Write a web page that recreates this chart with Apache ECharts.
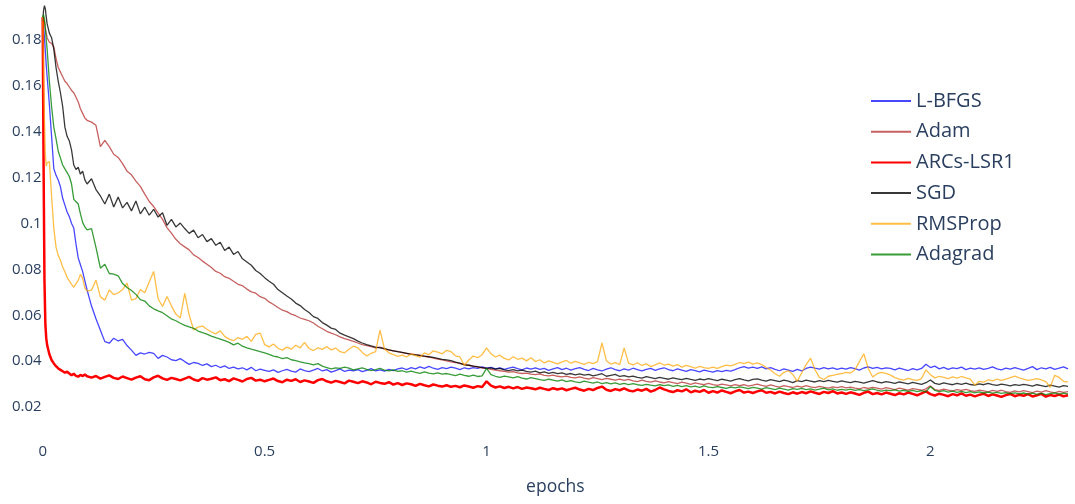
<!DOCTYPE html>
<html>
<head>
<meta charset="utf-8">
<script src="https://cdn.jsdelivr.net/npm/echarts@6/dist/echarts.min.js"></script>
<style>
  html, body { margin: 0; padding: 0; background: #ffffff; }
  #chart { width: 1075px; height: 504px; }
</style>
</head>
<body>
<div id="chart"></div>
<script>
// Training loss per optimizer, logged against epochs.
// Fine logging for the first 0.1 epoch, then every 0.01 epoch.
const headEpochs = [0, 0.002, 0.004, 0.006, 0.008, 0.01, 0.015, 0.02, 0.025, 0.03, 0.035, 0.04,
  0.045, 0.05, 0.055, 0.06, 0.065, 0.07, 0.075, 0.08, 0.085, 0.09, 0.095, 0.1];
const tailStart = 0.11, tailStep = 0.01, tailCount = 221;
const epochs = headEpochs.concat(
  Array.from({ length: tailCount }, (_, i) => +(tailStart + i * tailStep).toFixed(2))
);

const seriesNames = ['L-BFGS', 'Adam', 'ARCs-LSR1', 'SGD', 'RMSProp', 'Adagrad'];

const lbfgs = [
  0.19, 0.186, 0.181, 0.175, 0.169, 0.164, 0.152, 0.138, 0.124, 0.121, 0.119, 0.116, 0.111, 0.108, 0.105, 0.103, 0.1, 0.098, 0.091, 0.085, 0.082, 0.079, 0.075, 0.071,
  0.064, 0.0585, 0.0535, 0.0485, 0.0478, 0.05, 0.0488, 0.0495, 0.0468, 0.0448,
  0.0425, 0.0436, 0.0431, 0.0438, 0.0434, 0.0412, 0.0425, 0.0418, 0.0406, 0.0402,
  0.0411, 0.0398, 0.0386, 0.0394, 0.039, 0.0381, 0.0388, 0.0376, 0.0382, 0.0372,
  0.0379, 0.0368, 0.0374, 0.0366, 0.0371, 0.0362, 0.0373, 0.0358, 0.0365, 0.036,
  0.0355, 0.0362, 0.0351, 0.0358, 0.0364, 0.0356, 0.0352, 0.0366, 0.0359, 0.0354,
  0.0361, 0.0368, 0.0357, 0.0363, 0.0352, 0.0359, 0.0366, 0.0355, 0.0361, 0.0358,
  0.0363, 0.0354, 0.036, 0.0367, 0.0357, 0.0362, 0.0356, 0.0364, 0.0359, 0.0366,
  0.037, 0.0363, 0.0372, 0.0366, 0.0375, 0.0368, 0.0377, 0.0369, 0.0364, 0.0372,
  0.0367, 0.0374, 0.0369, 0.0363, 0.0371, 0.0366, 0.0372, 0.0368, 0.0375, 0.0369,
  0.0373, 0.0366, 0.0371, 0.0364, 0.0369, 0.0374, 0.0367, 0.0362, 0.037, 0.0365,
  0.0371, 0.0364, 0.0368, 0.036, 0.0366, 0.0372, 0.0363, 0.0369, 0.0361, 0.0367,
  0.0372, 0.0364, 0.0359, 0.0368, 0.0362, 0.0357, 0.0365, 0.0371, 0.0363, 0.0358,
  0.0366, 0.0361, 0.0369, 0.0363, 0.0357, 0.0364, 0.0368, 0.036, 0.0366, 0.0371,
  0.0363, 0.0358, 0.0366, 0.0361, 0.0355, 0.0363, 0.0359, 0.0353, 0.0361, 0.0356,
  0.0352, 0.0359, 0.0354, 0.036, 0.0356, 0.0363, 0.0371, 0.0376, 0.0369, 0.0374,
  0.0368, 0.0375, 0.0366, 0.0372, 0.0364, 0.0358, 0.0366, 0.0361, 0.0355, 0.0364,
  0.0357, 0.0368, 0.0374, 0.0369, 0.0365, 0.0372, 0.0366, 0.0371, 0.0364, 0.0369,
  0.0365, 0.0372, 0.0367, 0.0361, 0.037, 0.0375, 0.0368, 0.0373, 0.0366, 0.0371,
  0.0368, 0.0362, 0.0369, 0.0364, 0.0359, 0.0367, 0.0362, 0.0368, 0.0386, 0.0372,
  0.0378, 0.0366, 0.0373, 0.0364, 0.0371, 0.0367, 0.0374, 0.0363, 0.0369, 0.0365,
  0.0371, 0.0364, 0.0368, 0.0375, 0.0366, 0.0362, 0.0369, 0.0365, 0.0372, 0.0366,
  0.0361, 0.0368, 0.0376, 0.0363, 0.0371, 0.0366, 0.0373, 0.0364, 0.0369, 0.0375, 0.0366
];

const adam = [
  0.19, 0.19, 0.188, 0.185, 0.183, 0.181, 0.179, 0.1785, 0.177, 0.172, 0.168, 0.166, 0.164, 0.162, 0.161, 0.1595, 0.158, 0.157, 0.155, 0.153, 0.15, 0.148, 0.146, 0.145,
  0.1442, 0.1428, 0.1335, 0.1362, 0.1335, 0.1302, 0.1288, 0.1261, 0.1228, 0.1212,
  0.1185, 0.1162, 0.1128, 0.1096, 0.1074, 0.1045, 0.1018, 0.0982, 0.0958, 0.0931,
  0.0912, 0.0898, 0.0885, 0.0863, 0.0852, 0.0836, 0.0822, 0.0808, 0.0791, 0.0783,
  0.0768, 0.0761, 0.0748, 0.0735, 0.0729, 0.0714, 0.0702, 0.0696, 0.0681, 0.0674,
  0.0658, 0.0647, 0.0634, 0.0622, 0.0616, 0.0605, 0.0598, 0.0588, 0.0582, 0.0576,
  0.0566, 0.0552, 0.0541, 0.053, 0.0522, 0.0515, 0.0506, 0.0498, 0.0493, 0.0486,
  0.0479, 0.0472, 0.0468, 0.0463, 0.0458, 0.0461, 0.0452, 0.0449, 0.0445, 0.0441,
  0.0437, 0.0434, 0.0431, 0.0428, 0.0426, 0.0421, 0.0418, 0.0413, 0.0409, 0.0405,
  0.0401, 0.0397, 0.0394, 0.0389, 0.0386, 0.0382, 0.0378, 0.0374, 0.0371, 0.0368,
  0.0364, 0.0361, 0.0358, 0.0355, 0.0352, 0.0354, 0.0349, 0.0346, 0.0348, 0.0343,
  0.0341, 0.0344, 0.0338, 0.0336, 0.0339, 0.0334, 0.0331, 0.0335, 0.0329, 0.0327,
  0.0331, 0.0326, 0.0322, 0.0328, 0.0324, 0.0319, 0.0325, 0.0321, 0.0317, 0.0322,
  0.0316, 0.032, 0.0314, 0.0311, 0.0317, 0.0312, 0.0308, 0.0314, 0.0309, 0.0305,
  0.0311, 0.0306, 0.0302, 0.0308, 0.0304, 0.0299, 0.0305, 0.0301, 0.0297, 0.0303,
  0.0298, 0.0294, 0.03, 0.0296, 0.0292, 0.0298, 0.0293, 0.0297, 0.0291, 0.0295,
  0.03, 0.0294, 0.029, 0.0296, 0.0291, 0.0287, 0.0293, 0.0289, 0.0285, 0.0291,
  0.0287, 0.0293, 0.0288, 0.0284, 0.029, 0.0286, 0.0282, 0.0288, 0.0284, 0.0289,
  0.0283, 0.0287, 0.0282, 0.0279, 0.0285, 0.0281, 0.0286, 0.0282, 0.0278, 0.0284,
  0.028, 0.0276, 0.0282, 0.0278, 0.0274, 0.028, 0.0277, 0.0273, 0.0279, 0.0292,
  0.0276, 0.0272, 0.0278, 0.0274, 0.027, 0.0276, 0.0272, 0.0277, 0.0271, 0.0268,
  0.0274, 0.027, 0.0266, 0.0272, 0.0268, 0.0273, 0.0267, 0.0264, 0.027, 0.0266,
  0.0271, 0.0267, 0.0263, 0.0269, 0.0265, 0.0271, 0.0266, 0.0262, 0.0268, 0.0264, 0.0267
];

const arcsLsr1 = [
  0.19, 0.125, 0.075, 0.056, 0.05, 0.047, 0.043, 0.0405, 0.039, 0.0378, 0.0368, 0.0362, 0.0356, 0.035, 0.0354, 0.0346, 0.0338, 0.0345, 0.0336, 0.0332, 0.034, 0.0335, 0.0342, 0.0334,
  0.0328, 0.0335, 0.0324, 0.0331, 0.0338, 0.0327, 0.0322, 0.0333, 0.0326, 0.0319,
  0.0328, 0.0334, 0.0321, 0.0317, 0.0329, 0.0336, 0.0325, 0.0318, 0.0327, 0.0322,
  0.0316, 0.0324, 0.0331, 0.032, 0.0314, 0.0326, 0.0319, 0.0323, 0.0329, 0.0317,
  0.0321, 0.0313, 0.0325, 0.0318, 0.0311, 0.0322, 0.0327, 0.0315, 0.0319, 0.0312,
  0.0318, 0.0324, 0.0313, 0.0308, 0.0319, 0.0314, 0.0321, 0.0309, 0.0316, 0.0311,
  0.0305, 0.0317, 0.0322, 0.0312, 0.0306, 0.0314, 0.0309, 0.0303, 0.0315, 0.031,
  0.0304, 0.0312, 0.0307, 0.0299, 0.031, 0.0305, 0.0301, 0.0308, 0.0298, 0.0304,
  0.0296, 0.0303, 0.0299, 0.0292, 0.0301, 0.0295, 0.029, 0.0298, 0.0293, 0.0289,
  0.0295, 0.0288, 0.0292, 0.0286, 0.0294, 0.0289, 0.0284, 0.0291, 0.0287, 0.0312,
  0.0293, 0.0285, 0.029, 0.0283, 0.0288, 0.0281, 0.0287, 0.0279, 0.0285, 0.0282,
  0.0277, 0.0284, 0.0279, 0.0274, 0.0282, 0.0276, 0.0281, 0.0273, 0.0279, 0.0284,
  0.0276, 0.0271, 0.0279, 0.0274, 0.0283, 0.0289, 0.0275, 0.027, 0.0278, 0.0273,
  0.0281, 0.0272, 0.0268, 0.0276, 0.0271, 0.0279, 0.0267, 0.0274, 0.0285, 0.0277,
  0.027, 0.0265, 0.0273, 0.0268, 0.0277, 0.0264, 0.0271, 0.0266, 0.0274, 0.0262,
  0.0269, 0.0263, 0.0272, 0.0266, 0.026, 0.0268, 0.0274, 0.0263, 0.0267, 0.0261,
  0.0268, 0.0273, 0.0262, 0.0266, 0.0259, 0.0267, 0.0261, 0.0256, 0.0264, 0.0258,
  0.0265, 0.026, 0.0268, 0.0262, 0.0257, 0.0266, 0.0261, 0.0269, 0.0259, 0.0263,
  0.0257, 0.0264, 0.0259, 0.0253, 0.0262, 0.0267, 0.0256, 0.0261, 0.0255, 0.0263,
  0.0258, 0.0252, 0.026, 0.0255, 0.0263, 0.0257, 0.0251, 0.0259, 0.0268, 0.0256,
  0.025, 0.0258, 0.0253, 0.0247, 0.0256, 0.0251, 0.0259, 0.0249, 0.0254, 0.0246,
  0.0253, 0.0258, 0.0248, 0.0255, 0.025, 0.0244, 0.0252, 0.0257, 0.0247, 0.0253,
  0.0249, 0.0256, 0.0246, 0.0251, 0.0257, 0.0245, 0.0252, 0.0248, 0.0254, 0.0247, 0.0251
];

const sgd = [
  0.188, 0.193, 0.195, 0.1935, 0.19, 0.187, 0.183, 0.181, 0.176, 0.168, 0.162, 0.157, 0.151, 0.142, 0.138, 0.136, 0.132, 0.1255, 0.1235, 0.1245, 0.1215, 0.1228, 0.119, 0.1172,
  0.1195, 0.1148, 0.112, 0.1085, 0.1128, 0.1072, 0.1115, 0.1068, 0.1092, 0.1055,
  0.1098, 0.1042, 0.1071, 0.1036, 0.1062, 0.1028, 0.1047, 0.0992, 0.1018, 0.0985,
  0.1002, 0.0978, 0.0957, 0.0971, 0.0938, 0.0952, 0.0921, 0.0934, 0.0905, 0.0918,
  0.0882, 0.0897, 0.0865, 0.0878, 0.0846, 0.0832, 0.0818, 0.0795, 0.0782, 0.0764,
  0.0748, 0.0735, 0.0712, 0.0698, 0.0684, 0.0671, 0.0653, 0.0642, 0.0625, 0.0612,
  0.0594, 0.0586, 0.0568, 0.0557, 0.0544, 0.0538, 0.0522, 0.0513, 0.0506, 0.0498,
  0.0487, 0.0479, 0.0472, 0.0466, 0.0461, 0.0458, 0.0455, 0.0449, 0.0445, 0.0441,
  0.0438, 0.0434, 0.0429, 0.0427, 0.0424, 0.0422, 0.0419, 0.0416, 0.0412, 0.0408,
  0.0405, 0.0402, 0.0396, 0.0391, 0.0384, 0.0382, 0.0378, 0.0376, 0.0372, 0.0368,
  0.0371, 0.0365, 0.0368, 0.0362, 0.0359, 0.0363, 0.0357, 0.0361, 0.0355, 0.0352,
  0.0356, 0.0349, 0.0353, 0.0347, 0.0351, 0.0345, 0.0349, 0.0342, 0.0346, 0.034,
  0.0344, 0.0339, 0.0342, 0.0336, 0.034, 0.0345, 0.0334, 0.0338, 0.0342, 0.0333,
  0.0337, 0.0331, 0.0335, 0.0329, 0.0326, 0.0332, 0.0328, 0.0324, 0.0329, 0.0325,
  0.0321, 0.0327, 0.0323, 0.0319, 0.0325, 0.032, 0.0316, 0.0322, 0.0318, 0.0324,
  0.0319, 0.0315, 0.0321, 0.0317, 0.0313, 0.0319, 0.0324, 0.0318, 0.0314, 0.032,
  0.0323, 0.0317, 0.0313, 0.0319, 0.0315, 0.0311, 0.0317, 0.0313, 0.0306, 0.0315,
  0.0311, 0.0317, 0.0313, 0.0309, 0.0315, 0.0311, 0.0316, 0.0312, 0.0308, 0.0314,
  0.031, 0.0306, 0.0312, 0.0308, 0.0304, 0.031, 0.0315, 0.0309, 0.0305, 0.0311,
  0.0307, 0.0303, 0.0309, 0.0305, 0.0301, 0.0307, 0.0303, 0.0299, 0.0306, 0.0318,
  0.0303, 0.0299, 0.0305, 0.0301, 0.0297, 0.0303, 0.0299, 0.0304, 0.0298, 0.0295,
  0.0301, 0.0297, 0.0303, 0.0298, 0.0294, 0.03, 0.0296, 0.0292, 0.0298, 0.0294,
  0.0299, 0.0295, 0.0291, 0.0297, 0.0293, 0.0289, 0.0295, 0.0291, 0.0287, 0.0293, 0.029
];

const rmsprop = [
  0.19, 0.165, 0.145, 0.13, 0.125, 0.1265, 0.127, 0.112, 0.098, 0.0897, 0.086, 0.084, 0.081, 0.079, 0.0765, 0.075, 0.0735, 0.0722, 0.0738, 0.0752, 0.0778, 0.0762, 0.0718, 0.0705,
  0.071, 0.0753, 0.068, 0.0666, 0.071, 0.069, 0.0697, 0.0712, 0.074, 0.0666,
  0.0672, 0.0712, 0.0698, 0.0745, 0.0791, 0.0672, 0.0638, 0.0682, 0.0641, 0.0605,
  0.0588, 0.0695, 0.0601, 0.0536, 0.0548, 0.0553, 0.0539, 0.0527, 0.0519, 0.0532,
  0.0508, 0.0496, 0.0489, 0.0502, 0.0495, 0.0508, 0.0486, 0.0517, 0.0522, 0.0472,
  0.0462, 0.0475, 0.0456, 0.0448, 0.0461, 0.0452, 0.0469, 0.0458, 0.0482, 0.0455,
  0.0446, 0.0458, 0.0451, 0.0463, 0.0449, 0.0457, 0.0441, 0.0436, 0.0452, 0.0465,
  0.0458, 0.0438, 0.0422, 0.0434, 0.0441, 0.0535, 0.0453, 0.0436, 0.0428, 0.0421,
  0.0426, 0.0418, 0.0431, 0.0424, 0.0417, 0.0436, 0.0428, 0.0445, 0.0439, 0.0432,
  0.0447, 0.0441, 0.0423, 0.0418, 0.0382, 0.0405, 0.0422, 0.0415, 0.0428, 0.0458,
  0.0432, 0.0418, 0.0426, 0.0412, 0.0405, 0.0419, 0.0408, 0.0413, 0.0401, 0.0415,
  0.0398, 0.0406, 0.0392, 0.0401, 0.0395, 0.0388, 0.0397, 0.0403, 0.0391, 0.0399,
  0.0392, 0.0386, 0.0395, 0.0389, 0.0398, 0.0479, 0.0402, 0.0387, 0.0393, 0.0385,
  0.0458, 0.0391, 0.0384, 0.0393, 0.0381, 0.0388, 0.0376, 0.0384, 0.0392, 0.0383,
  0.0387, 0.0378, 0.0385, 0.0374, 0.0381, 0.0376, 0.0369, 0.0377, 0.0372, 0.0368,
  0.0374, 0.0368, 0.0376, 0.0383, 0.0379, 0.0386, 0.0394, 0.0389, 0.0396, 0.0387,
  0.0392, 0.0385, 0.0372, 0.0361, 0.0345, 0.0334, 0.0351, 0.0358, 0.0342, 0.0312,
  0.0348, 0.0385, 0.0413, 0.0362, 0.0329, 0.032, 0.0334, 0.0338, 0.0342, 0.0346,
  0.0351, 0.0348, 0.0362, 0.0398, 0.0432, 0.0368, 0.0331, 0.0345, 0.0351, 0.0347,
  0.0339, 0.0328, 0.0322, 0.0317, 0.0325, 0.0319, 0.0316, 0.0324, 0.0362, 0.0341,
  0.0327, 0.0334, 0.0329, 0.0324, 0.0331, 0.0326, 0.0333, 0.0327, 0.0322, 0.0295,
  0.0312, 0.0308, 0.0319, 0.0314, 0.0321, 0.0316, 0.0322, 0.0328, 0.0335, 0.0327,
  0.0321, 0.0316, 0.0319, 0.0324, 0.0318, 0.0311, 0.0286, 0.0338, 0.0329, 0.0312, 0.0308
];

const adagrad = [
  0.19, 0.191, 0.189, 0.185, 0.18, 0.176, 0.162, 0.151, 0.142, 0.137, 0.1315, 0.1285, 0.1255, 0.1238, 0.1222, 0.1205, 0.1172, 0.1105, 0.1095, 0.1085, 0.1042, 0.1005, 0.0985, 0.0972,
  0.0978, 0.0896, 0.0805, 0.0822, 0.0782, 0.0779, 0.0772, 0.0738, 0.0721, 0.0708,
  0.0691, 0.0668, 0.0662, 0.0641, 0.0628, 0.0619, 0.0611, 0.0598, 0.0584, 0.0576,
  0.0565, 0.0556, 0.0549, 0.0543, 0.0531, 0.0524, 0.0518, 0.0509, 0.0502, 0.0496,
  0.0489, 0.0482, 0.0471, 0.0478, 0.0465, 0.0458, 0.0452, 0.0447, 0.0441, 0.0436,
  0.0429, 0.0422, 0.0418, 0.0411, 0.0415, 0.0406, 0.0402, 0.0397, 0.0392, 0.0389,
  0.0384, 0.0389, 0.0378, 0.0372, 0.0366, 0.0371, 0.0368, 0.0374, 0.0369, 0.0362,
  0.0366, 0.0371, 0.0364, 0.0359, 0.0363, 0.0368, 0.0361, 0.0357, 0.0362, 0.0355,
  0.0358, 0.0352, 0.0356, 0.0351, 0.0347, 0.0353, 0.0348, 0.0344, 0.0349, 0.0343,
  0.0346, 0.0341, 0.0337, 0.0343, 0.0338, 0.0334, 0.0339, 0.0333, 0.0336, 0.0368,
  0.0341, 0.0334, 0.0329, 0.0335, 0.0331, 0.0327, 0.0332, 0.0326, 0.0322, 0.0328,
  0.0324, 0.0319, 0.0316, 0.0321, 0.0317, 0.0313, 0.0318, 0.0311, 0.0315, 0.031,
  0.0306, 0.0313, 0.0308, 0.0304, 0.0309, 0.0302, 0.0306, 0.0301, 0.0305, 0.0299,
  0.0303, 0.0298, 0.0302, 0.0297, 0.0294, 0.0299, 0.0295, 0.0292, 0.0297, 0.0293,
  0.0296, 0.029, 0.0294, 0.0289, 0.0293, 0.0288, 0.0291, 0.0286, 0.0292, 0.0287,
  0.0284, 0.0289, 0.0285, 0.0281, 0.0287, 0.0283, 0.0288, 0.0284, 0.028, 0.0286,
  0.0282, 0.0278, 0.0284, 0.028, 0.0276, 0.0282, 0.0278, 0.0274, 0.028, 0.0277,
  0.0281, 0.0276, 0.0279, 0.0274, 0.0278, 0.0282, 0.0275, 0.0279, 0.0273, 0.0277,
  0.0274, 0.0278, 0.0272, 0.0276, 0.0271, 0.0275, 0.0279, 0.0273, 0.0269, 0.0274,
  0.0271, 0.0275, 0.0269, 0.0273, 0.0268, 0.0272, 0.0267, 0.0271, 0.0266, 0.0289,
  0.0272, 0.0267, 0.0271, 0.0265, 0.0269, 0.0264, 0.0268, 0.0263, 0.0267, 0.0262,
  0.0266, 0.0261, 0.0265, 0.026, 0.0264, 0.0259, 0.0263, 0.0258, 0.0262, 0.0257,
  0.0261, 0.0256, 0.026, 0.0255, 0.0259, 0.0254, 0.0258, 0.0262, 0.0256, 0.026, 0.0257
];

const xTicks = [0, 0.5, 1, 1.5, 2];
const yTicks = [0.02, 0.04, 0.06, 0.08, 0.1, 0.12, 0.14, 0.16, 0.18];

const seriesValues = [lbfgs, adam, arcsLsr1, sgd, rmsprop, adagrad];
const lineColors = [
  'rgba(0,0,255,0.72)',
  'rgba(178,34,34,0.72)',
  'rgb(255,0,0)',
  'rgba(0,0,0,0.78)',
  'rgba(255,165,0,0.72)',
  'rgba(0,128,0,0.78)'
];
const lineWidths = [1.3, 1.3, 2.5, 1.3, 1.3, 1.3];

const FONT = '"Open Sans", verdana, arial, sans-serif';
const TEXT = '#2a3f5f';
const fmt = v => String(Math.round(v * 100) / 100);

const chart = echarts.init(document.getElementById('chart'), null, { renderer: 'canvas' });

chart.setOption({
  animation: false,
  backgroundColor: '#ffffff',
  grid: { left: 42.7, right: 7, top: 1, height: 440.4, containLabel: false },
  legend: {
    data: seriesNames,
    orient: 'vertical',
    left: 870,
    top: 91,
    padding: 0,
    itemWidth: 40,
    itemHeight: 14,
    itemGap: 10.7,
    selectedMode: false,
    // legend keys are plain line segments
    itemStyle: { opacity: 0 },
    textStyle: { fontFamily: FONT, fontSize: 20, color: TEXT, lineHeight: 20 }
  },
  xAxis: {
    type: 'value',
    min: 0,
    max: 2.31,
    axisLine: { show: false },
    axisTick: { show: false },
    splitLine: { show: false },
    axisLabel: {
      customValues: xTicks,
      formatter: fmt,
      fontFamily: FONT,
      fontSize: 15,
      color: TEXT,
      margin: 3
    },
    name: 'epochs',
    nameLocation: 'middle',
    nameGap: 37,
    nameTextStyle: { fontFamily: FONT, fontSize: 17.5, color: TEXT }
  },
  yAxis: {
    type: 'value',
    min: 0.005,
    max: 0.197,
    axisLine: { show: false },
    axisTick: { show: false },
    splitLine: { show: false },
    axisLabel: {
      customValues: yTicks,
      formatter: fmt,
      fontFamily: FONT,
      fontSize: 15,
      color: TEXT,
      margin: 1
    }
  },
  series: seriesNames.map((name, k) => ({
    name,
    type: 'line',
    symbol: 'none',
    showSymbol: false,
    sampling: null,
    clip: true,
    data: epochs.map((e, i) => [e, seriesValues[k][i]]),
    lineStyle: { color: lineColors[k], width: lineWidths[k] },
    itemStyle: { color: lineColors[k] },
    emphasis: { disabled: true }
  }))
});
</script>
</body>
</html>
